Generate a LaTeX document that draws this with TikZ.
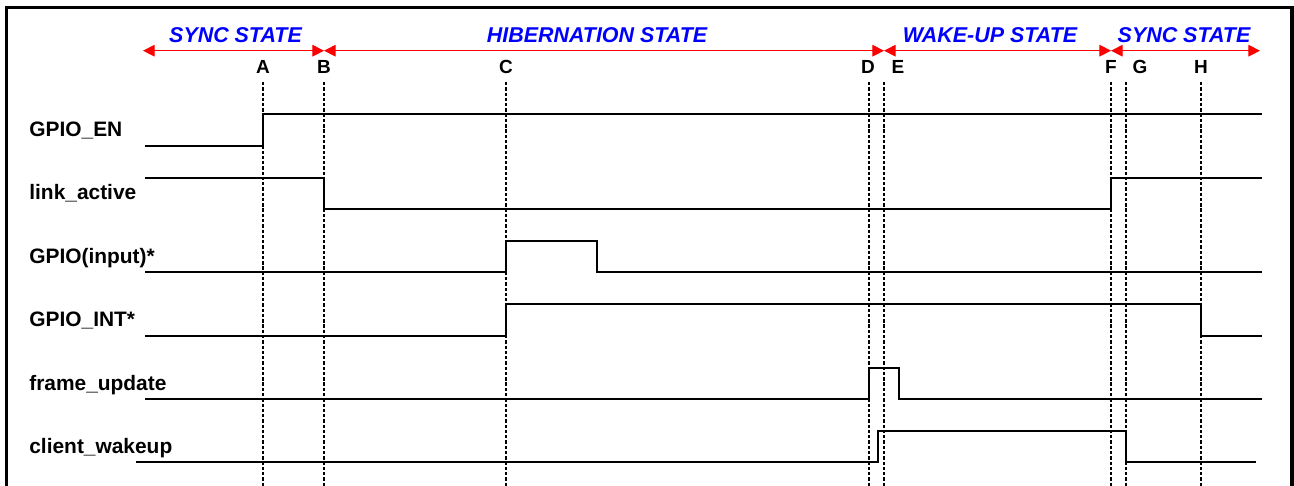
\documentclass[tikz,border=0pt]{standalone}
\usepackage{fontspec}
\setsansfont{Liberation Sans}
\usetikzlibrary{arrows.meta}

\begin{document}
\begin{tikzpicture}[x=0.02cm,y=-0.02cm,>={Triangle[length=6.6pt,width=6.6pt]},font=\sffamily\bfseries]
\definecolor{statearrow}{RGB}{255,0,0}
\definecolor{statetext}{RGB}{0,0,255}
\tikzset{
  signal/.style={line width=1.4pt},
  marker/.style={line width=0.6pt,dash pattern=on 1.9pt off 1.1pt},
  sig label/.style={anchor=base west,inner sep=0pt,font=\sffamily\bfseries\fontsize{11.9}{14}\selectfont},
  tick label/.style={anchor=base,inner sep=0pt,font=\sffamily\bfseries\fontsize{10.8}{12}\selectfont},
  state label/.style={anchor=base,inner sep=0pt,statetext,font=\sffamily\bfseries\itshape\fontsize{12.2}{14}\selectfont},
  state span/.style={<->,statearrow,line width=0.6pt}
}
\useasboundingbox (0,0) rectangle (1294,486);

% Frame, open at the bottom.
\draw[line width=1.9pt] (6.7,486)--(6.7,7.3)--(1292,7.3)--(1292,486);

% Time markers.
\foreach \n/\x/\dx in {A/263/0,B/324/0,C/506/0,D/869/-1,E/884/14,F/1111/0,G/1126/14,H/1201/0}{
  \coordinate (\n) at (\x,82);
  \node[tick label] (lbl\n) at (\x+\dx,73.5) {\n};
  \draw[marker] (\n)--(\x,486);
}

% States.
\coordinate (s0) at (143,50.7);
\coordinate (s1) at (B |- s0);
\coordinate (s2) at (E |- s0);
\coordinate (s3) at (F |- s0);
\coordinate (s4) at (1260,50.7);
\draw[state span] (s0)--(s1);
\draw[state span] (s1)--(s2);
\draw[state span] (s2)--(s3);
\draw[state span] (s3)--(s4);
\node[state label] (sync1) at (235.5,42.3) {SYNC STATE};
\node[state label] (hiber) at (597,42.3) {HIBERNATION STATE};
\node[state label] (wakeup) at (990,42.3) {WAKE-UP STATE};
\node[state label] (sync2) at (1184,42.3) {SYNC STATE};

% Signal names.
\node[sig label] (nEN) at (29,136.5) {GPIO\_EN};
\node[sig label] (nLink) at (29,200) {link\_active};
\node[sig label] (nIn) at (29,263) {GPIO(input)*};
\node[sig label] (nInt) at (29,326.5) {GPIO\_INT*};
\node[sig label] (nFrame) at (29,390) {frame\_update};
\node[sig label] (nWake) at (29,453) {client\_wakeup};

% Waveforms.
\draw[signal] (145,146)--(263,146)--(263,114)--(1262,114);
\draw[signal] (145,178)--(324,178)--(324,209)--(1111,209)--(1111,178)--(1262,178);
\draw[signal] (145,272)--(506,272)--(506,241)--(597,241)--(597,272)--(1262,272);
\draw[signal] (145,336)--(506,336)--(506,304)--(1201,304)--(1201,336)--(1262,336);
\draw[signal] (145,399)--(869,399)--(869,368)--(899,368)--(899,399)--(1262,399);
\draw[signal] (136,462)--(878,462)--(878,431)--(1126,431)--(1126,462)--(1256,462);
\end{tikzpicture}
\end{document}
